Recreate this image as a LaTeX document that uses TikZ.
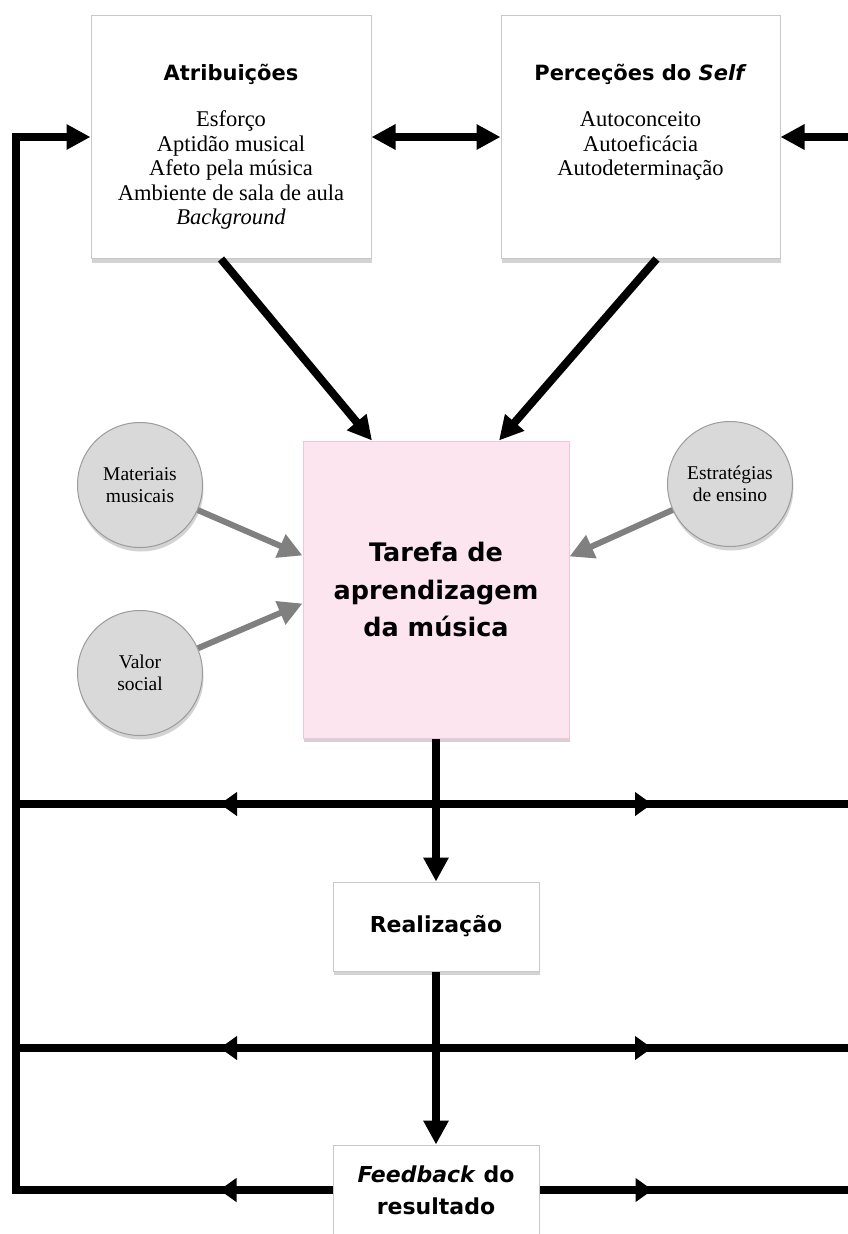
\documentclass[tikz,border=0pt]{standalone}
\usepackage{fontspec}
\setmainfont{Liberation Serif}
\newfontfamily\headfont{DejaVu Sans}
\usetikzlibrary{arrows.meta,shadows,decorations.markings}
\definecolor{tpink}{HTML}{FDE5F0}
\definecolor{tpinkline}{HTML}{F6C3DA}
\definecolor{cgray}{HTML}{D9D9D9}
\definecolor{cline}{HTML}{9B9B9B}
\definecolor{agray}{HTML}{808080}
\definecolor{bline}{HTML}{C8C8C8}

\begin{document}
\begin{tikzpicture}[x=1pt,y=-1pt]
    \tikzset{
      box/.style={
        rectangle,
        draw=bline,
        fill=white,
        line width=1pt,
        drop shadow={shadow xshift=1pt, shadow yshift=-4pt, opacity=.35}},
      circ/.style={
        circle,
        draw=cline,
        fill=cgray,
        line width=1pt,
        minimum size=125pt,
        inner sep=0pt,
        align=center,
        font=\fontsize{19.5}{22}\selectfont,
        drop shadow={shadow xshift=1pt, shadow yshift=-4pt, opacity=.35}},
      hd/.style 2 args={font=\headfont\bfseries\fontsize{#1}{#2}\selectfont, align=center},
      blk/.style={line width=8pt, -{Triangle[length=24pt,width=24pt]}},
      gry/.style={line width=6pt, draw=agray, -{Triangle[length=24pt,width=24pt]}},
      fb/.style={line width=8pt, postaction={decorate},
        decoration={markings, mark=at position #1 with {\arrow{Triangle[length=17pt,width=23pt]}}}}}
    \useasboundingbox (0,0) rectangle (848,1234);

    \node[box, minimum width=280pt, minimum height=243pt] at (231, 137) (atr) {};
    \node[box, minimum width=279pt, minimum height=243pt] at (640.5, 137) (per) {};
    \node[hd={21}{26}] at (231, 74) (atrh) {Atribuições};
    \node[align=center, font=\fontsize{22.5}{24.5}\selectfont] at (231, 170) (atrl) {Esforço\\ Aptidão musical\\ Afeto pela música\\ Ambiente de sala de aula\\ \textit{Background}};
    \node[hd={21}{26}] at (640.5, 74) (perh) {Perceções do \textit{Self}};
    \node[align=center, font=\fontsize{22.5}{24.5}\selectfont] at (640.5, 146) (perl) {Autoconceito\\ Autoeficácia\\ Autodeterminação};

    \node[box, draw=tpinkline, fill=tpink, minimum width=266pt, minimum height=297pt, hd={25.5}{37.5}] at (436, 589.5) (task) {Tarefa de\\ aprendizagem\\ da música};

    \node[circ] at (140, 485) (mat) {Materiais\\ musicais};
    \node[circ] at (140, 673) (val) {Valor\\ social};
    \node[circ] at (730, 484) (est) {Estratégias\\ de ensino};

    \node[box, minimum width=206pt, minimum height=89pt, hd={22}{32}] at (436, 926.5) (rea) {Realização};
    \node[box, minimum width=206pt, minimum height=90pt, hd={22}{32}] at (436, 1190) (fbk) {\textit{Feedback} do\\ resultado};

    \coordinate (w1) at (16, 804);
    \coordinate (c1) at (436, 804);
    \coordinate (e1) at (848, 804);
    \coordinate (w2) at (16, 1048);
    \coordinate (c2) at (436, 1048);
    \coordinate (e2) at (848, 1048);
    \coordinate (e3) at (848, 1190);
    \coordinate (cnr) at (16, 1190);
    \coordinate (rtop) at (848, 137);

    \draw[fb=216pt] (c1) -- (w1);
    \draw[fb=216pt] (c1) -- (e1);
    \draw[fb=216pt] (c2) -- (w2);
    \draw[fb=216pt] (c2) -- (e2);
    \draw[fb=113pt] (fbk.east) -- (e3);
    \draw[fb=113pt, -{Triangle[length=24pt,width=24pt]}] (fbk.west) -- (cnr) |- (atr.west);

    \draw[blk] (rtop) -- (per.east);
    \draw[line width=8pt, {Triangle[length=24pt,width=24pt]}-{Triangle[length=24pt,width=24pt]}] (atr.east) -- (per.west);
    \draw[blk] ([xshift=-10pt]atr.south) -- ([xshift=-64pt]task.north);
    \draw[blk] ([xshift=16pt]per.south) -- ([xshift=63pt]task.north);
    \draw[blk] (task) -- (rea);
    \draw[blk] (rea) -- (fbk);

    \draw[gry] (mat) -- ([yshift=34pt]task.west);
    \draw[gry] (val) -- ([yshift=-14pt]task.west);
    \draw[gry] (est) -- ([yshift=33pt]task.east);
  \end{tikzpicture}
\end{document}
